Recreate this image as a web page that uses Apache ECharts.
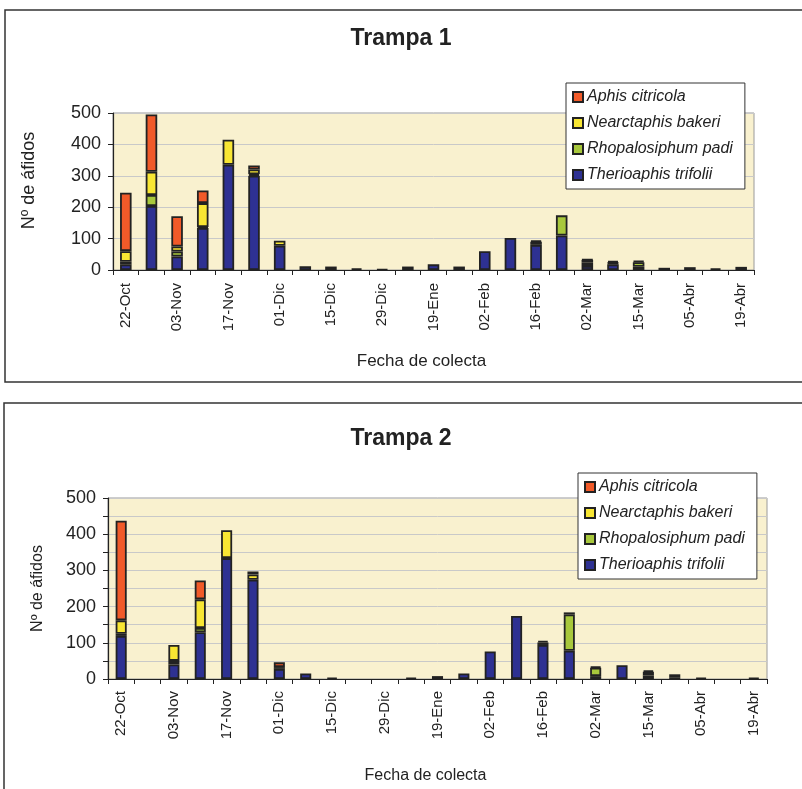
<!DOCTYPE html>
<html>
<head>
<meta charset="utf-8">
<script src="https://cdn.jsdelivr.net/npm/echarts@6/dist/echarts.min.js"></script>
<style>
html,body{margin:0;padding:0;background:#fff;}
#chart{width:802px;height:789px;}
</style>
</head>
<body>
<div id="chart"></div>
<script>
// ---- data ----
const tickLabels = ['22-Oct','03-Nov','17-Nov','01-Dic','15-Dic','29-Dic','19-Ene','02-Feb','16-Feb','02-Mar','15-Mar','05-Abr','19-Abr'];
const sampleCount = 25; // weekly samples, labelled every second one
const speciesNames = ['Therioaphis trifolii','Rhopalosiphum padi','Nearctaphis bakeri','Aphis citricola'];
const legendOrder = ['Aphis citricola','Nearctaphis bakeri','Rhopalosiphum padi','Therioaphis trifolii'];

// Trampa 1
const t1Therioaphis = [18,204,43,134,335,300,77,12,11,5,3,11,18,11,60,102,80,110,13,18,10,7,9,5,10];
const t1Rhopalosiphum = [8,35,16,3,0,5,0,0,0,0,0,0,0,0,0,0,10,64,12,4,15,0,0,0,0];
const t1Nearctaphis = [34,74,16,76,80,15,16,0,0,0,0,0,0,0,0,0,4,0,7,2,4,0,0,0,0];
const t1Aphis = [186,182,96,40,0,13,0,0,0,0,0,0,0,0,0,0,0,0,2,5,0,0,0,0,0];

// Trampa 2
const t2Therioaphis = [119,0,40,129,334,274,28,15,4,0,0,3,8,15,76,174,94,78,8,38,10,5,3,0,3];
const t2Rhopalosiphum = [6,0,10,12,0,0,0,0,0,0,0,0,0,0,0,0,7,100,23,0,10,8,0,0,0];
const t2Nearctaphis = [37,0,44,79,77,15,5,0,0,0,0,0,0,0,0,0,4,0,3,0,4,0,0,0,0];
const t2Aphis = [275,0,0,52,0,8,13,0,0,0,0,0,0,0,0,0,0,6,0,0,0,0,0,0,0];

const colors = {
  'Therioaphis trifolii': '#2e3192',
  'Rhopalosiphum padi': '#a8c83c',
  'Nearctaphis bakeri': '#f8e633',
  'Aphis citricola': '#f15a29'
};

// ---- chart ----
const categories = Array.from({length: sampleCount}, (_, i) => String(i));
const FONT = '"Liberation Sans", Arial, sans-serif';

function clean(arr){ return arr.map(v => v === 0 ? '-' : v); }

function makeSeries(panel, arrays, barWidth){
  return arrays.map((arr, k) => ({
    name: speciesNames[k],
    type: 'bar',
    stack: 'trampa' + panel,
    xAxisIndex: panel,
    yAxisIndex: panel,
    barWidth: barWidth,
    data: clean(arr),
    itemStyle: { color: colors[speciesNames[k]], borderColor: '#222', borderWidth: 1.8 },
    emphasis: { disabled: true },
    animation: false
  }));
}

function xAxisFor(idx, nameGap, labelMargin, nameFont){
  return {
    type: 'category',
    gridIndex: idx,
    data: categories,
    boundaryGap: true,
    axisLine: { lineStyle: { color: '#222', width: 1.2 } },
    axisTick: { show: true, interval: 0, length: 5, lineStyle: { color: '#222' } },
    axisLabel: {
      interval: 1,
      rotate: 90,
      margin: labelMargin,
      fontSize: 15,
      fontFamily: FONT,
      color: '#222',
      formatter: (v, i) => (i % 2 === 0 ? tickLabels[i / 2] : '')
    },
    name: 'Fecha de colecta',
    nameLocation: 'middle',
    nameGap: nameGap,
    nameTextStyle: nameFont
  };
}

function yAxisFor(idx, interval, nameGap, nameSize, namePad){
  return {
    type: 'value',
    gridIndex: idx,
    min: 0,
    max: 500,
    interval: interval,
    axisLine: { show: true, lineStyle: { color: '#222', width: 1.2 } },
    axisTick: { show: true, length: 5, lineStyle: { color: '#222' } },
    axisLabel: {
      fontSize: 18,
      fontFamily: FONT,
      color: '#222',
      margin: 12,
      formatter: v => (v % 100 === 0 ? String(v) : '')
    },
    splitLine: { show: true, lineStyle: { color: '#c9c9c9', width: 1 } },
    name: 'Nº de áfidos',
    nameLocation: 'middle',
    nameGap: nameGap,
    nameTextStyle: { fontSize: nameSize, fontFamily: FONT, color: '#222', padding: namePad }
  };
}

function legendFor(left, top){
  return {
    orient: 'vertical',
    left: left,
    top: top,
    data: legendOrder,
    icon: 'rect',
    itemWidth: 10,
    itemHeight: 10,
    itemGap: 10,
    padding: [6, 12, 6, 6],
    backgroundColor: '#fff',
    borderColor: '#333',
    borderWidth: 1,
    selectedMode: false,
    textStyle: { fontSize: 16, fontStyle: 'italic', fontFamily: FONT, color: '#222', lineHeight: 16, padding: [0, 0, 0, -1] }
  };
}

const chart = echarts.init(document.getElementById('chart'), null, { renderer: 'canvas' });
chart.setOption({
  animation: false,
  backgroundColor: '#fff',
  title: [
    { text: 'Trampa 1', left: 'center', top: 22, textStyle: { fontSize: 23, fontWeight: 'bold', fontFamily: FONT, color: '#222' } },
    { text: 'Trampa 2', left: 'center', top: 422, textStyle: { fontSize: 23, fontWeight: 'bold', fontFamily: FONT, color: '#222' } }
  ],
  graphic: [
    { type: 'rect', shape: { x: 5, y: 10, width: 810, height: 372 }, style: { fill: 'none', stroke: '#333', lineWidth: 1.5 }, silent: true, z: -10 },
    { type: 'rect', shape: { x: 4, y: 403, width: 810, height: 400 }, style: { fill: 'none', stroke: '#333', lineWidth: 1.5 }, silent: true, z: -10 }
  ],
  grid: [
    { left: 113, right: 48, top: 113, height: 157, show: true, backgroundColor: '#f9f1cf', borderColor: '#9a9a9a', borderWidth: 1 },
    { left: 108, right: 35, top: 498, height: 181, show: true, backgroundColor: '#f9f1cf', borderColor: '#9a9a9a', borderWidth: 1 }
  ],
  legend: [legendFor(566, 83), legendFor(578, 473)],
  xAxis: [
    xAxisFor(0, 83, 13, { fontSize: 17, fontFamily: FONT, color: '#222', padding: [0, 24, 0, 0] }),
    xAxisFor(1, 89, 12, { fontSize: 16, fontFamily: FONT, color: '#222', padding: [0, 24, 0, 0] })
  ],
  yAxis: [yAxisFor(0, 100, 75, 18, [0, 0, 0, 22]), yAxisFor(1, 50, 62, 16, [0, 0, 0, 0])],
  series: [
    ...makeSeries(0, [t1Therioaphis, t1Rhopalosiphum, t1Nearctaphis, t1Aphis], '45%'),
    ...makeSeries(1, [t2Therioaphis, t2Rhopalosiphum, t2Nearctaphis, t2Aphis], '42%')
  ]
});
</script>
</body>
</html>
